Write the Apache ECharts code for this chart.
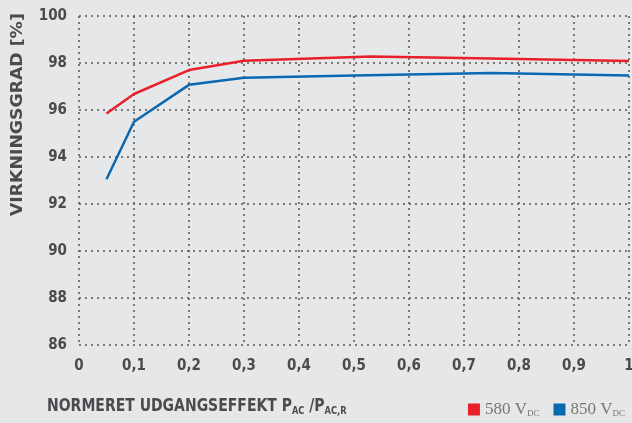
<!DOCTYPE html>
<html><head><meta charset="utf-8">
<script src="https://cdn.jsdelivr.net/npm/echarts@6/dist/echarts.min.js"></script>
<style>html,body{margin:0;padding:0;background:#e6e7e9}#c{width:632px;height:423px}</style>
</head><body><div id="c"></div>
<script>
const seriesNames = ['580 VDC', '850 VDC'];
const redX = [0.05, 0.1, 0.2, 0.3, 0.53, 0.75, 1.0];
const redY = [95.85, 96.68, 97.7, 98.1, 98.28, 98.19, 98.08];
const blueX = [0.05, 0.1, 0.2, 0.3, 0.5, 0.75, 1.0];
const blueY = [93.05, 95.5, 97.07, 97.37, 97.47, 97.57, 97.47];
const yTitle = 'VIRKNINGSGRAD [%]';

const font = '"DejaVu Sans Condensed", "Open Sans", sans-serif';
const txt = '#4a4b4d';
const pair = (xs, ys) => xs.map((x, i) => [x, ys[i]]);
const chart = echarts.init(document.getElementById('c'));
chart.setOption({
  backgroundColor: '#e6e7e9',
  animation: false,
  grid: {left: 79, right: 3, top: 16, bottom: 78, outerBoundsMode: 'none', containLabel: false},
  xAxis: {
    type: 'value', min: 0, max: 1, interval: 0.1,
    axisLine: {show: false}, axisTick: {show: false},
    splitLine: {show: true, lineStyle: {type: [2, 4], color: '#555', width: 1.5}},
    axisLabel: {color: txt, fontFamily: font, fontWeight: 'bold', fontSize: 15, margin: 14,
      formatter: v => String(Math.round(v * 10) / 10).replace('.', ',')}
  },
  yAxis: {
    type: 'value', min: 86, max: 100, interval: 2,
    axisLine: {show: false}, axisTick: {show: false},
    splitLine: {show: true, lineStyle: {type: [2, 4], color: '#555', width: 1.5}},
    axisLabel: {color: txt, fontFamily: font, fontWeight: 'bold', fontSize: 15, margin: 12}
  },
  legend: {
    right: 2, top: 396, itemWidth: 12, itemHeight: 12, itemGap: 14, icon: 'rect',
    data: seriesNames,
    formatter: n => '{a|' + n.slice(0, 5) + '}{b|' + n.slice(5) + '}',
    textStyle: {
      color: '#777',
      rich: {
        a: {fontFamily: '"Liberation Serif", serif', fontSize: 17, color: '#777'},
        b: {fontFamily: '"Liberation Serif", serif', fontSize: 9, color: '#777', verticalAlign: 'bottom', padding: [7, 0, 0, 0]}
      }
    }
  },
  graphic: [
    {type: 'text', x: 10, y: 216, rotation: Math.PI / 2, scaleX: 1.08, style: {
      text: yTitle, fill: txt, font: 'bold 16px "DejaVu Sans", sans-serif'
    }},
    {type: 'text', x: 47, y: 397, scaleX: 0.915, style: {
      text: '{m|NORMERET UDGANGSEFFEKT P}{s|AC}{m| /P}{s|AC,R}',
      rich: {
        m: {fill: txt, font: 'bold 17px ' + font},
        s: {fill: txt, font: 'bold 10px ' + font, verticalAlign: 'bottom', padding: [9, 0, 0, 0]}
      }
    }}
  ],
  series: [
    {name: seriesNames[0], type: 'line', data: pair(redX, redY), smooth: false, symbol: 'none',
      lineStyle: {color: '#e8202a', width: 2.5}, itemStyle: {color: '#e8202a'}},
    {name: seriesNames[1], type: 'line', data: pair(blueX, blueY), smooth: false, symbol: 'none',
      lineStyle: {color: '#0a68b0', width: 2.5}, itemStyle: {color: '#0a68b0'}}
  ]
});
</script></body></html>
